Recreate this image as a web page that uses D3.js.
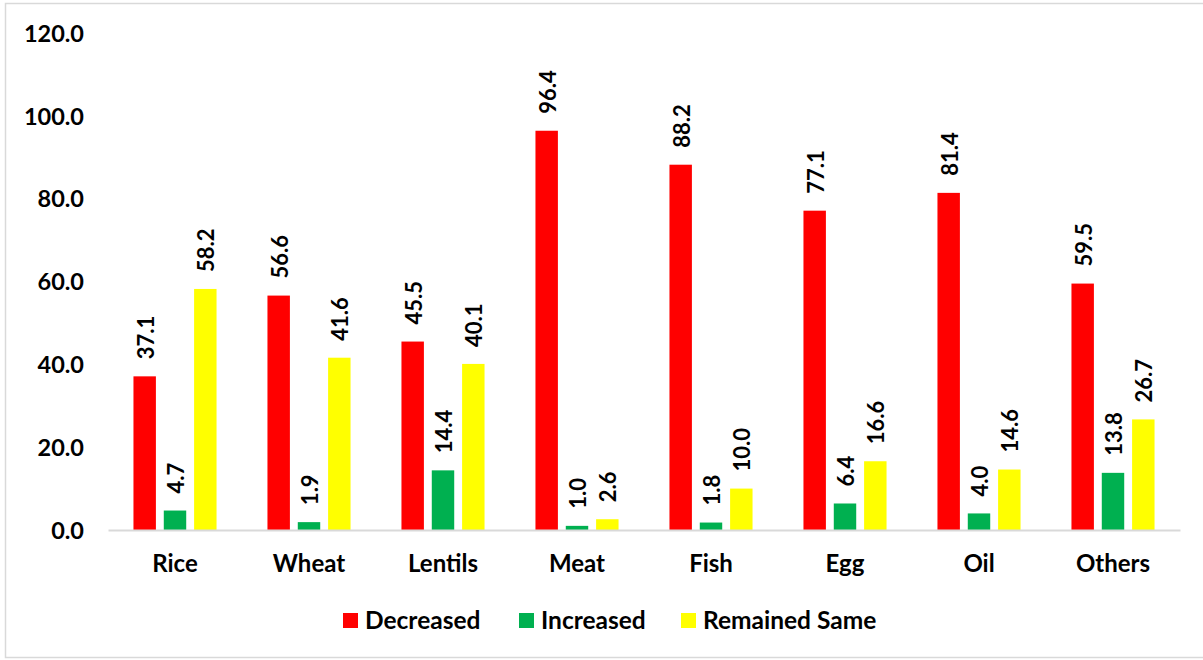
<!DOCTYPE html>
<html>
<head>
<meta charset="utf-8">
<script src="https://cdn.jsdelivr.net/npm/d3@7"></script>
<style>
  html, body { margin: 0; padding: 0; background: #ffffff; }
  svg { display: block; font-family: Lato, "Open Sans", "Liberation Sans", sans-serif; }
</style>
</head>
<body>
<svg id="chart" width="1203" height="660"></svg>
<script>
// Food items and change in consumption (%)
const categories = ["Rice", "Wheat", "Lentils", "Meat", "Fish", "Egg", "Oil", "Others"];
const seriesNames = ["Decreased", "Increased", "Remained Same"];
const decreased = [37.1, 56.6, 45.5, 96.4, 88.2, 77.1, 81.4, 59.5];
const increased = [4.7, 1.9, 14.4, 1.0, 1.8, 6.4, 4.0, 13.8];
const remainedSame = [58.2, 41.6, 40.1, 2.6, 10.0, 16.6, 14.6, 26.7];
const yTicks = [0, 20, 40, 60, 80, 100, 120];
const colors = ["#FF0000", "#00B050", "#FFFF00"];

const seriesValues = [decreased, increased, remainedSame];

const svg = d3.select("#chart");
const W = 1203, H = 660;

// outer frame
svg.append("rect")
  .attr("x", 5.5).attr("y", 3.5)
  .attr("width", W + 10).attr("height", H - 6)
  .attr("fill", "#fff").attr("stroke", "#d9d9d9").attr("stroke-width", 1.5);

const plot = { left: 108, right: 1180, top: 33, bottom: 530 };

const x = d3.scaleBand()
  .domain(categories)
  .range([plot.left, plot.right])
  .paddingInner(0.38)
  .paddingOuter(0.19);

const xInner = d3.scaleBand()
  .domain(seriesNames)
  .range([0, x.bandwidth()])
  .paddingInner(0.26);

const y = d3.scaleLinear().domain([0, 120]).range([plot.bottom, plot.top]);

// y-axis tick labels (no axis line)
const yAxis = d3.axisLeft(y)
  .tickValues(yTicks)
  .tickFormat(d3.format(".1f"))
  .tickSize(0)
  .tickPadding(0);
const gy = svg.append("g")
  .attr("transform", `translate(84,0)`)
  .call(yAxis);
gy.select(".domain").remove();
gy.selectAll("text")
  .attr("font-size", 23.5).attr("font-weight", 700).attr("fill", "#000")
  .attr("font-family", "Lato, 'Open Sans', sans-serif")
  .attr("dy", "0.35em");

// bars
const groups = svg.append("g").selectAll("g")
  .data(categories)
  .join("g")
  .attr("transform", d => `translate(${x(d)},0)`);

seriesNames.forEach((s, si) => {
  groups.append("rect")
    .attr("x", xInner(s))
    .attr("width", xInner.bandwidth())
    .attr("y", (d, i) => y(seriesValues[si][i]))
    .attr("height", (d, i) => y(0) - y(seriesValues[si][i]))
    .attr("fill", colors[si]);

  // value labels, rotated, above each bar
  groups.append("text")
    .attr("transform", (d, i) =>
      `translate(${xInner(s) + xInner.bandwidth() / 2 + 1},${y(seriesValues[si][i]) - 17}) rotate(-90)`)
    .attr("dy", "0.36em")
    .attr("text-anchor", "start")
    .attr("font-size", 22).attr("font-weight", 700).attr("fill", "#000")
    .text((d, i) => seriesValues[si][i].toFixed(1));
});

// x-axis baseline and category labels
const xAxis = d3.axisBottom(x).tickSize(0).tickPadding(25);
const gx = svg.append("g")
  .attr("transform", `translate(0,${plot.bottom})`)
  .call(xAxis);
gx.select(".domain").attr("stroke", "#d9d9d9").attr("stroke-width", 2);
gx.selectAll("text")
  .attr("font-size", 24).attr("font-weight", 700).attr("fill", "#000")
  .attr("font-family", "Lato, 'Open Sans', sans-serif");

// legend
const legendX = [343, 519, 681];
const legend = svg.append("g").selectAll("g")
  .data(seriesNames)
  .join("g")
  .attr("transform", (d, i) => `translate(${legendX[i]},613)`);
legend.append("rect")
  .attr("width", 15).attr("height", 15)
  .attr("fill", (d, i) => colors[i]);
legend.append("text")
  .attr("x", 22).attr("y", 16)
  .attr("font-size", 24.5).attr("font-weight", 700).attr("fill", "#000")
  .text(d => d);
</script>
</body>
</html>
